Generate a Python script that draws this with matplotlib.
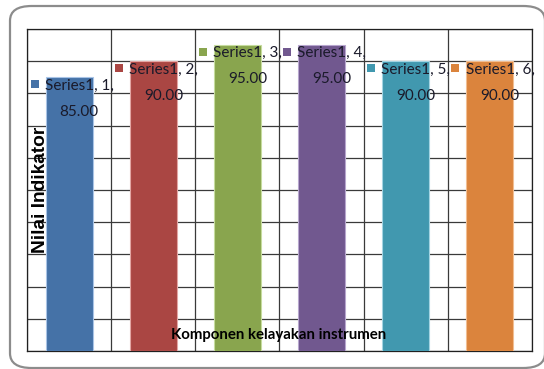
import matplotlib
matplotlib.use("Agg")
import matplotlib.pyplot as plt
from matplotlib.patches import FancyBboxPatch
import numpy as np

categories = [1, 2, 3, 4, 5, 6]
values = [85.0, 90.0, 95.0, 95.0, 90.0, 90.0]
series_name = "Series1"
colors = ["#4572A7", "#AA4643", "#89A54E", "#71588F", "#4198AF", "#DB843D"]
edge_colors = ["#A9C4E6", "#E3A6A4", "#C6DC9E", "#B7A6CE", "#A4D4E2", "#F1BE92"]
y_label = "Nilai Indikator"
x_label = "Komponen kelayakan instrumen"

W, H = 544, 369
fig = plt.figure(figsize=(W / 100, H / 100), dpi=100)

# rounded outer frame
frame = FancyBboxPatch((10 / W, 1 - 368 / H), (545 - 10) / W, (368 - 6) / H,
                       boxstyle="round,pad=0,rounding_size=0.04",
                       transform=fig.transFigure, fill=False,
                       edgecolor="#8c8c8c", linewidth=1.6, clip_on=False)
fig.patches.append(frame)

ax = fig.add_axes([27 / W, 1 - 351 / H, (532 - 27) / W, (351 - 29) / H])
x = np.arange(len(categories))
ax.bar(x, values, width=0.56, color=colors, edgecolor=edge_colors,
       linewidth=0.8, zorder=3)
ax.set_xlim(-0.5, len(categories) - 0.5)
ax.set_ylim(0, 100)
ax.set_yticks(np.arange(0, 101, 10))
ax.set_xticks(np.arange(-0.5, len(categories), 1.0))
ax.grid(True, color="#3a3a3a", linewidth=0.9, zorder=1)
ax.tick_params(left=False, bottom=False, labelleft=False, labelbottom=False)
for s in ax.spines.values():
    s.set_color("#202020")
    s.set_linewidth(0.9)

label_font = ["Lato", "DejaVu Sans"]
for i, (c, v) in enumerate(zip(categories, values)):
    ax.text(i + 0.12, v - 6.6, f"{series_name}, {c},\n{v:.2f}",
            ha="center", va="center", multialignment="center",
            fontsize=11, family=label_font, color="#1a1a2a",
            linespacing=2.1, zorder=5)
    ax.plot([i - 0.41], [v - 2.0], marker="s", markersize=6,
            color=colors[i], markeredgewidth=0, zorder=5, clip_on=False)

ax.text(0.027, 0.5, y_label, transform=ax.transAxes, rotation=90,
        ha="center", va="center", fontsize=13.8, fontweight="bold",
        family=["Liberation Sans", "DejaVu Sans"], color="black", zorder=6)
ax.text(0.498, 0.05, x_label, transform=ax.transAxes,
        ha="center", va="center", fontsize=10.8, fontweight="bold",
        family=label_font, color="black", zorder=6)

fig.savefig("out.png", dpi=100)
